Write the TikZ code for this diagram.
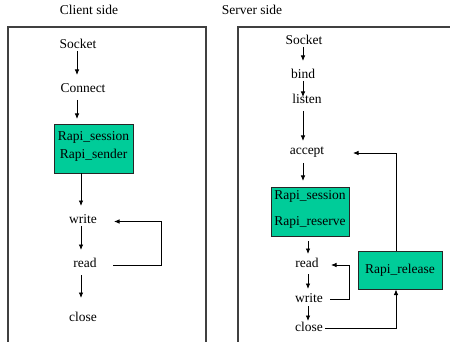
\documentclass[tikz,border=0pt]{standalone}
\usepackage{fontspec}
\setmainfont{Liberation Serif}
\usetikzlibrary{arrows.meta}
\definecolor{rapigreen}{RGB}{0,204,153}
\tikzset{
  lbl/.style={font=\rmfamily\fontsize{13.5}{15}\selectfont, inner sep=1pt},
  rapibox/.style={draw=black!85, line width=0.9pt, fill=rapigreen, inner sep=0pt},
  flow/.style={-{Latex[length=5.5pt,width=4.5pt]}, line width=0.8pt},
  frame/.style={draw=black!75, line width=1.2pt}
}
\begin{document}
\begin{tikzpicture}[x=1pt,y=-1pt]
\useasboundingbox (0,0) rectangle (450,342);
% section titles
\node[lbl] (ctitle) at (89,10) {Client side};
\node[lbl] (stitle) at (252,10) {Server side};
% frames (run off the bottom / right edge)
\draw[frame] (8,345) -- (8,27) -- (206,27) -- (206,345);
\draw[frame] (238,345) -- (238,27) -- (452,27);

% ---------- client ----------
\node[lbl] (csock) at (78,44) {Socket};
\node[lbl] (cconn) at (83,88) {Connect};
\node[rapibox, minimum width=79pt, minimum height=49pt] (crapi) at (93.5,148.5) {};
\node[lbl] at (93.5,137) {Rapi\_session};
\node[lbl] at (93.5,155) {Rapi\_sender};
\node[lbl] (cwrite) at (83,219) {write};
\node[lbl] (cread) at (85,263) {read};
\node[lbl] (cclose) at (83,317) {close};
\coordinate (cloopR) at (161,265);

\draw[flow] (77,51) -- (77,75);
\draw[flow] (77,100) -- (77,119);
\draw[flow] (81,173) -- (81,206);
\draw[flow] (81,226) -- (81,250);
\draw[flow] (81,275) -- (81,298);
\draw[flow] (113,265) -- (cloopR) |- (114,221.5);

% ---------- server ----------
\node[lbl] (ssock) at (304,40) {Socket};
\node[lbl] (sbind) at (303,74) {bind};
\node[lbl] (slisten) at (307,99) {listen};
\node[lbl] (saccept) at (307,152) {accept};
\node[rapibox, minimum width=78pt, minimum height=49pt] (srapi) at (310,211.5) {};
\node[lbl] at (310,196) {Rapi\_session};
\node[lbl] at (310,222) {Rapi\_reserve};
\node[rapibox, minimum width=84pt, minimum height=38pt, font=\rmfamily\fontsize{13.5}{15}\selectfont] (srel) at (400,270) {Rapi\_release};
\node[lbl] (sread) at (307,263) {read};
\node[lbl] (swrite) at (309,298) {write};
\node[lbl] (sclose) at (309,327) {close};

\draw[flow] (303,47) -- (303,61);
\draw[flow] (303,81) -- (303,97);
\draw[flow] (303,111) -- (303,141);
\draw[flow] (303,163) -- (303,181);
\draw[flow] (308,241) -- (308,254);
\draw[flow] (308,274) -- (308,289);
\draw[flow] (308,306) -- (308,321);
\draw[flow] (330,299) -- (349,299) |- (331,265);
\draw[flow] (396,251) |- (353,153);
\draw[flow] (325,328) -| (396,289.5);
\end{tikzpicture}
\end{document}
